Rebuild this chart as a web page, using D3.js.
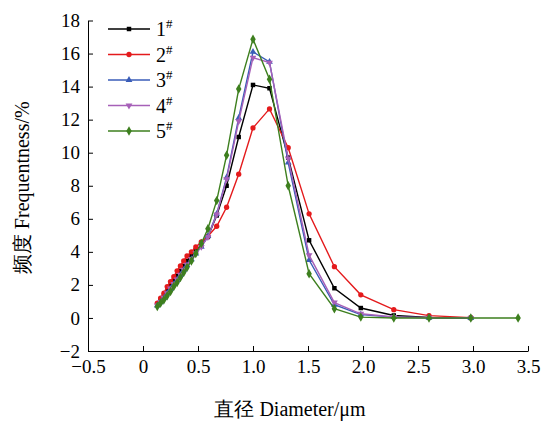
<!DOCTYPE html>
<html>
<head>
<meta charset="utf-8">
<script src="https://cdn.jsdelivr.net/npm/d3@7"></script>
<style>
  body { margin: 0; background: #fff; }
  svg { display: block; }
</style>
</head>
<body>
<svg id="chart" width="549" height="421"></svg>
<script>
// diameter bins (um)
const diameters = [0.13, 0.16, 0.19, 0.22, 0.25, 0.28, 0.31, 0.34, 0.37, 0.40, 0.44, 0.48, 0.53, 0.59,
  0.67, 0.76, 0.87, 1.0, 1.15, 1.32, 1.51, 1.74, 1.98, 2.28, 2.6, 2.98, 3.41];

// frequency (%) per sample
const s1 = [0.8, 1.05, 1.35, 1.65, 1.95, 2.25, 2.55, 2.85, 3.15, 3.45, 3.8, 4.1, 4.4, 4.9,
  6.2, 8.0, 10.95, 14.1, 13.9, 9.7, 4.7, 1.8, 0.6, 0.15, 0.03, 0.0];
const s2 = [0.9, 1.2, 1.5, 1.9, 2.2, 2.5, 2.85, 3.15, 3.45, 3.75, 4.0, 4.3, 4.6, 4.95,
  5.55, 6.7, 8.7, 11.5, 12.65, 10.3, 6.3, 3.1, 1.4, 0.5, 0.14, 0.02];
const s3 = [0.75, 0.95, 1.2, 1.5, 1.75, 2.05, 2.3, 2.6, 2.9, 3.2, 3.55, 3.9, 4.3, 4.95,
  6.3, 8.5, 12.1, 16.1, 15.5, 9.4, 3.5, 0.8, 0.2, 0.05, 0.01, 0.0];
const s4 = [0.75, 0.97, 1.22, 1.5, 1.78, 2.05, 2.33, 2.62, 2.92, 3.22, 3.57, 3.92, 4.3, 4.9,
  6.26, 8.4, 11.9, 15.75, 15.45, 9.65, 3.8, 0.93, 0.25, 0.06, 0.02, 0.0];
const s5 = [0.7, 0.9, 1.1, 1.35, 1.6, 1.9, 2.15, 2.45, 2.75, 3.05, 3.45, 3.9, 4.5, 5.4,
  7.1, 9.85, 13.85, 16.87, 14.45, 8.0, 2.68, 0.56, 0.05, 0.0, 0.0, 0.0, 0.0];

const seriesNames = ['1', '2', '3', '4', '5'];
const seriesValues = [s1, s2, s3, s4, s5];
const seriesColors = ['#000000', '#e41a1c', '#3a5db8', '#a660b8', '#3d7f1e'];
const seriesSymbols = [d3.symbolSquare, d3.symbolCircle, d3.symbolTriangle, d3.symbolTriangle, d3.symbolDiamond];

const xTicks = [-0.5, 0, 0.5, 1.0, 1.5, 2.0, 2.5, 3.0, 3.5];
const yTicks = [-2, 0, 2, 4, 6, 8, 10, 12, 14, 16, 18];

const FONT = "'Times New Roman', Times, 'Liberation Serif', 'DejaVu Serif', serif";

const svg = d3.select('#chart');
const plotLeft = 88, plotRight = 528, plotTop = 20.5, plotBottom = 351;

const x = d3.scaleLinear().domain([-0.5, 3.5]).range([plotLeft, plotRight]);
const y = d3.scaleLinear().domain([-2, 18]).range([plotBottom, plotTop]);

const fmtX = v => (v === 0 ? '0' : d3.format('.1f')(v)).replace('-', '\u2212');
const fmtY = v => String(v).replace('-', '\u2212');

// axes, ticks point inward
const xAxis = svg.append('g')
  .attr('transform', `translate(0,${plotBottom})`)
  .call(d3.axisBottom(x).tickValues(xTicks).tickFormat(fmtX).tickSize(-5).tickPadding(9).tickSizeOuter(0));
const yAxis = svg.append('g')
  .attr('transform', `translate(${plotLeft},0)`)
  .call(d3.axisLeft(y).tickValues(yTicks).tickFormat(fmtY).tickSize(-5).tickPadding(8).tickSizeOuter(0));

[xAxis, yAxis].forEach(a => {
  a.attr('font-family', FONT).attr('font-size', 19);
  a.selectAll('text').attr('fill', '#000');
  a.selectAll('line, path').attr('stroke', '#000').attr('stroke-width', 1);
});

// titles
svg.append('text')
  .attr('x', (plotLeft + plotRight) / 2 - 18).attr('y', 416)
  .attr('text-anchor', 'middle')
  .attr('font-family', FONT).attr('font-size', 20)
  .text('直径 Diameter/μm');
svg.append('text')
  .attr('transform', `translate(29,${(plotTop + plotBottom) / 2 + 2}) rotate(-90)`)
  .attr('text-anchor', 'middle')
  .attr('font-family', FONT).attr('font-size', 20)
  .text('频度 Frequentness/%');

const line = d3.line().x(d => x(d[0])).y(d => y(d[1]));

const symbolPath = (i) => {
  const size = i === 1 ? 22 : i === 4 ? 26 : 20;
  return d3.symbol().type(seriesSymbols[i]).size(size)();
};

seriesValues.forEach((vals, i) => {
  const pts = vals.map((v, k) => [diameters[k], v]);
  const g = svg.append('g');
  g.append('path')
    .datum(pts)
    .attr('d', line)
    .attr('fill', 'none')
    .attr('stroke', seriesColors[i])
    .attr('stroke-width', 1.4);
  g.selectAll('path.m')
    .data(pts)
    .join('path')
      .attr('class', 'm')
      .attr('d', symbolPath(i))
      .attr('transform', d => `translate(${x(d[0])},${y(d[1])})${i === 3 ? ' rotate(180)' : ''}`)
      .attr('fill', seriesColors[i]);
});

// legend
const legend = svg.append('g').attr('font-family', FONT);
seriesNames.forEach((name, i) => {
  const ly = 29 + i * 25.5;
  legend.append('line')
    .attr('x1', 108).attr('x2', 150).attr('y1', ly).attr('y2', ly)
    .attr('stroke', seriesColors[i]).attr('stroke-width', 1.4);
  legend.append('path')
    .attr('d', symbolPath(i))
    .attr('transform', `translate(129,${ly})${i === 3 ? ' rotate(180)' : ''}`)
    .attr('fill', seriesColors[i]);
  const t = legend.append('text')
    .attr('x', 156).attr('y', ly + 7)
    .attr('font-size', 20);
  t.append('tspan').text(name);
  t.append('tspan').attr('dy', -8).attr('font-size', 13).text('#');
});
</script>
</body>
</html>
